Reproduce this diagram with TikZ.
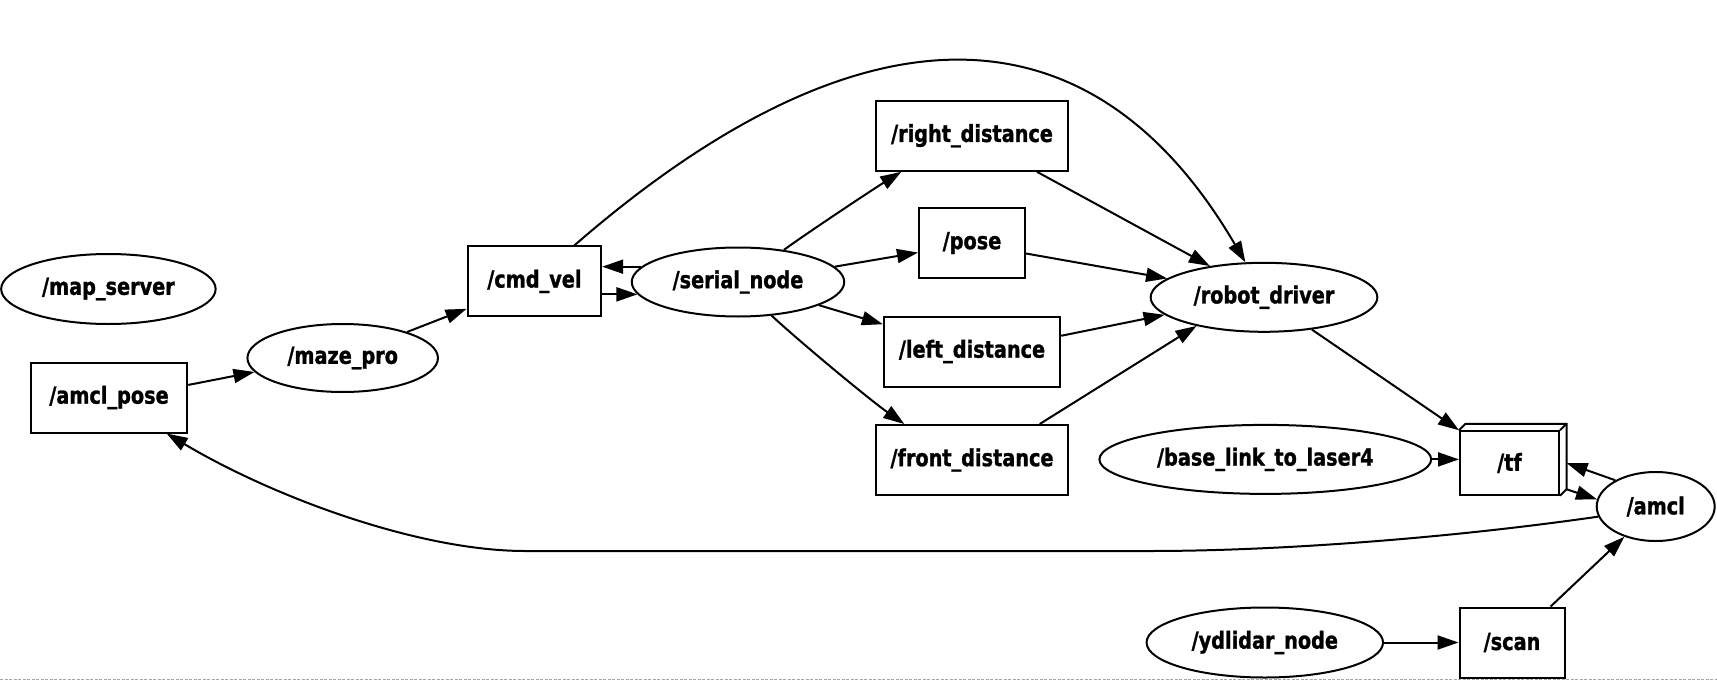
\documentclass[tikz,border=0pt]{standalone}
\usepackage{fontspec}
\newfontfamily\lblfont{DejaVu Sans}[FakeStretch=0.82,FakeBold=1.2]
\usetikzlibrary{arrows.meta,shapes.geometric}
\begin{document}
\begin{tikzpicture}[x=1pt,y=-1pt, line width=2pt,
  lbl/.style={font=\lblfont\bfseries\fontsize{23.5}{28}\selectfont},
  topicbox/.style={draw, rectangle, lbl, minimum height=70pt, inner sep=0pt},
  rosnode/.style={draw, ellipse, lbl, inner sep=0pt},
  conn/.style={-{Triangle[length=21pt,width=14pt]}}]
\useasboundingbox (0,0) rectangle (1717,680);
% page edge
\draw[line width=1pt, gray!70, dash pattern=on 3pt off 1.5pt] (0,679.5) -- (1717,679.5);
\node[rosnode, minimum width=214.5pt, minimum height=70pt] (ms) at (108.4,289) {/map\_server};
\node[topicbox, minimum width=156.5pt] (ap) at (109,397.5) {/amcl\_pose};
\node[rosnode, minimum width=190.5pt, minimum height=68pt] (mp) at (342.7,358) {/maze\_pro};
\node[topicbox, minimum width=133.6pt] (cv) at (534.4,281.4) {/cmd\_vel};
\node[rosnode, minimum width=212.5pt, minimum height=69pt] (sn) at (738,282) {/serial\_node};
\node[topicbox, minimum width=191.6pt] (rd) at (972,135.8) {/right\_distance};
\node[topicbox, minimum width=106pt] (po) at (972,243) {/pose};
\node[topicbox, minimum width=176.3pt] (ld) at (972,351.5) {/left\_distance};
\node[topicbox, minimum width=192.7pt] (fd) at (972,460) {/front\_distance};
\node[rosnode, minimum width=226.7pt, minimum height=69pt] (rdr) at (1264,297.3) {/robot\_driver};
\node[rosnode, minimum width=331.8pt, minimum height=69pt] (bl) at (1265.3,459.4) {/base\_link\_to\_laser4};
\node[topicbox, minimum width=99pt, minimum height=63.5pt] (tf) at (1509.5,463) {/tf};
\node[rosnode, minimum width=118pt, minimum height=69pt] (amcl) at (1655.7,506.5) {/amcl};
\node[rosnode, minimum width=236.5pt, minimum height=70pt] (yd) at (1264.8,642.5) {/ydlidar\_node};
\node[topicbox, minimum width=105pt] (sc) at (1512,642.5) {/scan};
% 3D box faces of /tf
\draw[line join=miter] (tf.north west) -- ++(6.5,-6.5) -- ([shift={(6.5,-6.5)}]tf.north east) -- ([shift={(6.5,-6.5)}]tf.south east) -- (tf.south east);
\draw (tf.north east) -- ++(6.5,-6.5);
% connectors
\draw[conn] (ap.9.5) -- (mp.189.3);
\draw[conn] (mp.22.9) -- (cv.202.3);
\draw[conn] (cv.42.5) .. controls (844,11) and (1083,-15) .. (rdr.118.3);
\draw[conn] (sn.171.2) -- (sn.171.2 -| cv.east);
\draw[conn] (sn.187.3 -| cv.east) -- (sn.187.3);
\draw[conn] (sn.35.6) .. controls (810,231) and (875,188) .. (rd.207.6);
\draw[conn] (sn.9.4) -- (po.190.9);
\draw[conn] (sn.344) -- (ld.163.4);
\draw[conn] (sn.315.6) .. controls (800,342) and (870,400) .. (fd.152.4);
\draw[conn] (rd.331.4) -- (rdr.150.3);
\draw[conn] (po.349) -- (rdr.169.8);
\draw[conn] (ld.10.6) -- (rdr.190);
\draw[conn] (fd.28.7) -- (rdr.203.9);
\draw[conn] (rdr.326.3) -- (tf.north west);
\draw[conn] (bl.east) -- (bl.east -| tf.west);
\draw[conn] (amcl.147.3) -- ([xshift=6.5pt]tf.east);
\draw[conn] ([shift={(6.5,-6.5)}]tf.south east) -- (amcl.173.9);
\draw[conn] (amcl.190) .. controls (1450,538) and (1280,551) .. (1150,551) -- (525,551) .. controls (420,551) and (275,498) .. (ap.328.7);
\draw[conn] (yd.east) -- (yd.east -| sc.west);
\draw[conn] (sc.43.6) -- (amcl.224.2);
\end{tikzpicture}
\end{document}
